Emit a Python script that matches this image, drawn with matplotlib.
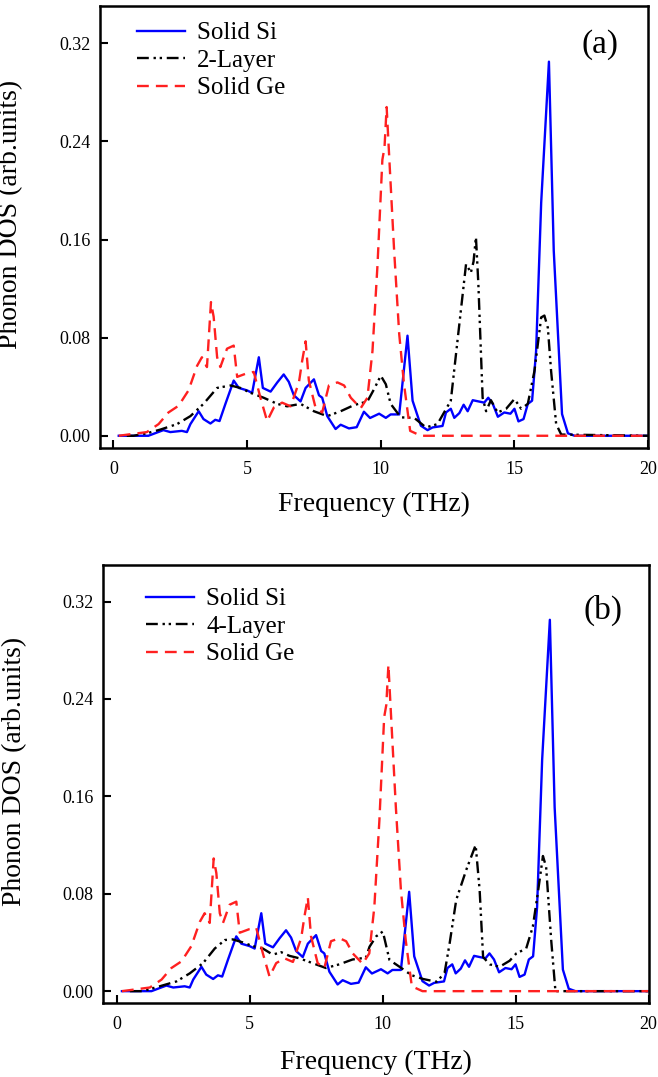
import numpy as np
import matplotlib
matplotlib.use('Agg')
import matplotlib.pyplot as plt

plt.rcParams['font.family'] = ['Liberation Serif', 'DejaVu Serif']

# Solid Si phonon DOS (same in both panels)
si_f = [0.2, 0.5, 1.31, 1.87, 2.13, 2.56, 2.75, 2.88, 3.19, 3.37, 3.63, 3.81, 3.97, 4.19, 4.50,
        4.69, 5.00, 5.19, 5.44, 5.59, 5.88, 6.13, 6.37, 6.56, 6.75, 7.00, 7.19, 7.50, 7.69,
        7.81, 8.00, 8.31, 8.50, 8.81, 9.10, 9.37, 9.60, 9.94, 10.19, 10.37, 10.69, 11.00,
        11.19, 11.50, 11.75, 11.94, 12.31, 12.44, 12.62, 12.75, 12.94, 13.10, 13.25, 13.44,
        13.87, 14.02, 14.19, 14.38, 14.62, 14.85, 15.00, 15.15, 15.34, 15.50, 15.66, 15.81,
        16.00, 16.29, 16.47, 16.78, 17.00, 17.25, 20.0]
si_v = [0.0, 0.0, 0.0, 0.0046, 0.003, 0.004, 0.003, 0.0095, 0.020, 0.0136, 0.010, 0.013, 0.012,
        0.026, 0.045, 0.039, 0.037, 0.035, 0.064, 0.039, 0.036, 0.0435, 0.050, 0.044, 0.033,
        0.028, 0.039, 0.046, 0.033, 0.031, 0.016, 0.0055, 0.009, 0.006, 0.007, 0.0196, 0.0145,
        0.018, 0.0146, 0.0174, 0.0174, 0.0816, 0.0286, 0.0082, 0.0046, 0.0068, 0.008, 0.019,
        0.022, 0.0146, 0.0185, 0.0253, 0.020, 0.029, 0.027, 0.031, 0.026, 0.0155, 0.019, 0.018,
        0.022, 0.0117, 0.0136, 0.026, 0.0286, 0.069, 0.19, 0.305, 0.151, 0.0177, 0.002, 0.0, 0.0]

# Solid Ge phonon DOS (same in both panels)
ge_f = [0.2, 1.25, 1.69, 2.06, 2.44, 2.81, 3.13, 3.31, 3.50, 3.65, 3.75, 3.88, 4.00, 4.25, 4.50,
        4.63, 5.00, 5.25, 5.50, 5.75, 6.00, 6.31, 6.63, 6.94, 7.06, 7.19, 7.31, 7.56, 7.81,
        8.06, 8.38, 8.63, 8.88, 9.25, 9.50, 9.69, 9.88, 10.06, 10.14, 10.22, 10.31, 10.50,
        10.69, 10.87, 11.10, 11.5, 20.0]
ge_v = [0.0, 0.003, 0.0095, 0.019, 0.0245, 0.037, 0.057, 0.064, 0.056, 0.109, 0.097, 0.064,
        0.056, 0.071, 0.0735, 0.048, 0.051, 0.052, 0.031, 0.012, 0.023, 0.027, 0.024, 0.0435,
        0.061, 0.077, 0.045, 0.023, 0.019, 0.041, 0.0435, 0.041, 0.031, 0.0225, 0.031, 0.069,
        0.140, 0.225, 0.235, 0.268, 0.23, 0.151, 0.083, 0.042, 0.004, 0.0, 0.0]

# 2-Layer (panel a)
l2_f = [0.5, 0.75, 1.25, 1.75, 2.38, 2.88, 3.37, 3.88, 4.38, 4.75, 5.13, 5.62, 6.13, 6.50, 7.00,
        7.50, 8.00, 8.50, 9.00, 9.50, 9.75, 10.0, 10.19, 10.37, 10.75, 11.25, 11.69, 12.12,
        12.62, 12.87, 13.19, 13.37, 13.47, 13.56, 13.65, 13.81, 13.94, 14.12, 14.37, 14.69,
        15.00, 15.25, 15.50, 15.75, 16.00, 16.12, 16.25, 16.37, 16.56, 16.75, 20.0]
l2_v = [0.0, 0.0, 0.002, 0.005, 0.0095, 0.016, 0.026, 0.039, 0.041, 0.039, 0.035, 0.031, 0.026,
        0.024, 0.026, 0.020, 0.016, 0.020, 0.025, 0.028, 0.038, 0.049, 0.042, 0.026, 0.015,
        0.0146, 0.0068, 0.0095, 0.0286, 0.0775, 0.140, 0.133, 0.142, 0.162, 0.124, 0.031,
        0.020, 0.029, 0.019, 0.022, 0.030, 0.022, 0.026, 0.053, 0.0965, 0.098, 0.088, 0.053,
        0.0095, 0.001, 0.0]

# 4-Layer (panel b)
l4_f = [0.5, 0.98, 1.62, 2.25, 2.75, 3.25, 3.69, 4.07, 4.37, 4.75, 5.12, 5.50, 5.87, 6.19, 6.50,
        6.87, 7.37, 7.87, 8.37, 8.87, 9.37, 9.51, 9.76, 10.01, 10.26, 10.64, 11.08, 11.52,
        12.03, 12.33, 12.52, 12.77, 13.15, 13.50, 13.65, 13.78, 14.03, 14.40, 14.78, 15.03,
        15.40, 15.65, 15.84, 16.03, 16.15, 16.34, 16.50, 20.0]
l4_v = [0.0, 0.0, 0.004, 0.008, 0.0146, 0.023, 0.035, 0.042, 0.0425, 0.040, 0.037, 0.035, 0.030,
        0.032, 0.029, 0.027, 0.023, 0.019, 0.022, 0.026, 0.0275, 0.0365, 0.045, 0.049, 0.0256,
        0.020, 0.0132, 0.010, 0.0077, 0.0148, 0.039, 0.075, 0.0998, 0.120, 0.083, 0.028, 0.022,
        0.020, 0.025, 0.031, 0.035, 0.053, 0.081, 0.111, 0.102, 0.042, 0.0, 0.0]

panels = [
    dict(rect=[0.152, 0.584, 0.833, 0.410], layer=(l2_f, l2_v, '2-Layer'), tag='(a)',
         tagpos=(0.913, 0.913), legpos=(0.068, 0.965), xlab=-0.10),
    dict(rect=[0.157, 0.0684, 0.8286, 0.407], layer=(l4_f, l4_v, '4-Layer'), tag='(b)',
         tagpos=(0.917, 0.897), legpos=(0.079, 0.948), xlab=-0.105),
]

fig = plt.figure(figsize=(6.58, 10.77), dpi=100)

for p in panels:
    ax = fig.add_axes(p['rect'])
    lf, lv, lname = p['layer']
    ax.plot(si_f, si_v, color='#0000ff', lw=1.7, label='Solid Si')
    ax.plot(lf, lv, color='black', lw=1.7, linestyle=(0, (5, 2, 1, 1.6, 1, 2)), label=lname)
    ax.plot(ge_f, ge_v, color='#ff2020', lw=1.7, linestyle=(0, (5, 3)), label='Solid Ge')

    ax.set_xlim(-0.5, 20)
    ax.set_ylim(-0.01, 0.35)
    ax.set_xticks([0, 5, 10, 15, 20])
    ax.set_yticks([0.0, 0.08, 0.16, 0.24, 0.32])
    ax.set_yticklabels(['0.00', '0.08', '0.16', '0.24', '0.32'])
    ax.tick_params(direction='in', length=6, width=1.5, labelsize=13)
    ax.tick_params(axis='y', pad=7)
    ax.tick_params(axis='x', pad=9)
    for s in ax.spines.values():
        s.set_linewidth(1.8)

    ax.set_xlabel('Frequency (THz)', fontsize=20)
    ax.xaxis.set_label_coords(0.5, p['xlab'])
    ax.set_ylabel('Phonon DOS (arb.units)', fontsize=20)
    ax.yaxis.set_label_coords(-0.14, 0.53)

    ax.text(p['tagpos'][0], p['tagpos'][1], p['tag'], transform=ax.transAxes,
            fontsize=24, ha='center', va='center')

    ax.legend(loc='upper left', bbox_to_anchor=p['legpos'], frameon=False, fontsize=18,
              borderaxespad=0, borderpad=0, handlelength=1.9, handletextpad=0.5,
              labelspacing=0.2)

fig.savefig('out.png', dpi=100)
